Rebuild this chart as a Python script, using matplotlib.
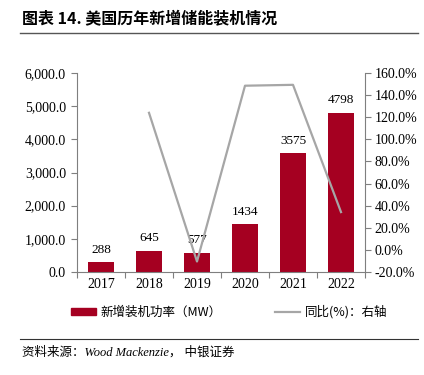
import matplotlib
matplotlib.use("Agg")
import matplotlib.pyplot as plt
from matplotlib.lines import Line2D
from matplotlib.patches import Patch
from matplotlib.ticker import FuncFormatter, MultipleLocator, FixedLocator

years = ["2017", "2018", "2019", "2020", "2021", "2022"]
capacity = [288, 645, 577, 1434, 3575, 4798]
yoy = [None, 124.0, -10.5, 148.5, 149.3, 34.2]

RED = "#A50021"
GRAY = "#A6A6A6"
AXC = "#7F7F7F"
serif = ["Liberation Serif", "DejaVu Serif"]
cjk = ["Noto Sans CJK SC", "DejaVu Sans"]

fig = plt.figure(figsize=(4.24, 3.75), dpi=100)
ax = fig.add_axes([77/424, 1-272/375, 288/424, 199/375])
ax2 = ax.twinx()

x = list(range(len(years)))
ax.bar(x, capacity, width=0.54, color=RED, zorder=2)
for xi, v in zip(x, capacity):
    ax.text(xi, v + 200, f"{v}", ha="center", va="bottom", fontsize=9.5, family=serif)

ax.set_xlim(-0.5, 5.5)
ax.set_ylim(0, 6000)
ax.yaxis.set_major_locator(MultipleLocator(1000))
ax.yaxis.set_major_formatter(FuncFormatter(lambda v, p: f"{v:,.1f}"))
ax.set_xticks(x)
ax.set_xticklabels(years)
ax.xaxis.set_minor_locator(FixedLocator([i - 0.5 for i in range(len(years) + 1)]))

lx = [xi for xi, v in zip(x, yoy) if v is not None]
ly = [v for v in yoy if v is not None]
ax2.plot(lx, ly, color=GRAY, lw=1.6, zorder=3)
ax2.set_ylim(-20, 160)
ax2.yaxis.set_major_locator(MultipleLocator(20))
ax2.yaxis.set_major_formatter(FuncFormatter(lambda v, p: f"{v:.1f}%"))

for a in (ax, ax2):
    a.spines["top"].set_visible(False)
    for s in ("left", "right", "bottom"):
        a.spines[s].set_color(AXC)
        a.spines[s].set_linewidth(0.8)
    a.tick_params(labelsize=10, colors="black", length=4, width=0.8, color=AXC)
    for lab in a.get_yticklabels() + a.get_xticklabels():
        lab.set_family(serif)
ax.spines["right"].set_visible(False)
ax2.spines["left"].set_visible(False)
ax2.spines["bottom"].set_visible(False)
ax.tick_params(axis="y", pad=4)
ax2.tick_params(axis="y", pad=3)
ax.tick_params(axis="x", which="major", length=0, pad=4)
ax.tick_params(axis="x", which="minor", length=4, width=0.8, color=AXC)

# title and rules
fig.text(22/424, 1-18/375, "图表 14. 美国历年新增储能装机情况", fontsize=11.5, fontweight="bold",
         family=cjk, va="center", ha="left")
fig.add_artist(Line2D([20/424, 418/424], [1-33/375, 1-33/375], color="#555555", lw=1.0))
fig.add_artist(Line2D([20/424, 418/424], [1-339/375, 1-339/375], color="#333333", lw=0.8))
fig.text(22/424, 1-352/375, "资料来源：Wood Mackenzie， 中银证券", fontsize=9, style="italic",
         family=["Liberation Serif", "Noto Sans CJK SC"], va="center", ha="left")

handles = [Patch(facecolor=RED, edgecolor=RED), Line2D([], [], color=GRAY, lw=1.6)]
labels = ["新增装机功率（MW）", "同比(%)：右轴"]
fig.legend(handles, labels, loc="center", bbox_to_anchor=(229/424, 1-312/375), ncol=2,
           frameon=False, prop={"family": cjk, "size": 9}, columnspacing=4.2,
           handlelength=2.0, handleheight=0.5, handletextpad=0.4,
           borderpad=0, borderaxespad=0)

fig.savefig("out.png", dpi=100)
